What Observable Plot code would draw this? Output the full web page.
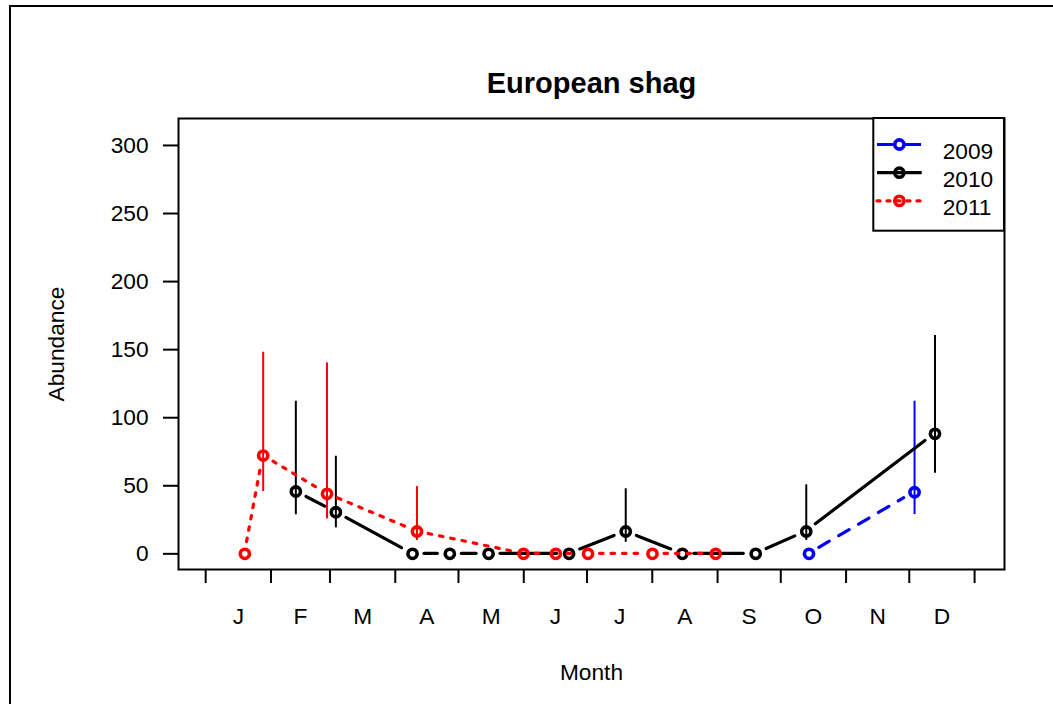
<!DOCTYPE html>
<html>
<head>
<meta charset="utf-8">
<script src="https://cdn.jsdelivr.net/npm/d3@7"></script>
<script src="https://cdn.jsdelivr.net/npm/@observablehq/plot@0.6"></script>
<style>
  html, body { margin: 0; padding: 0; background: #fff; }
  #wrap { position: relative; width: 1053px; height: 704px; overflow: hidden; }
  #border { position: absolute; left: 9px; top: 5px; width: 2000px; height: 2000px;
            border-left: 2px solid #000; border-top: 2px solid #000; pointer-events: none; }
  svg { display: block; }
</style>
</head>
<body>
<div id="wrap"><div id="border"></div><div id="chart"></div></div>
<script>
// ---- data ----
const monthLabels = ["J","F","M","A","M","J","J","A","S","O","N","D"];
const monthStarts = [1,32,60,91,121,152,182,213,244,274,305,335,366];
const yTicks = [0,50,100,150,200,250,300];
const years = ["2009","2010","2011"];
const colors = ["#0000ff","#000000","#ff0000"];

const day2009 = [287.4, 337.5];
const val2009 = [0, 45.3];
const lo2009  = [0, 28.9];
const hi2009  = [0, 112.1];

const day2010 = [43.8, 62.8, 99.2, 116.9, 135.3, 173.5, 200.4, 227.3, 262.1, 286.1, 347.2];
const val2010 = [45.8, 30.6, 0, 0, 0, 0, 16.4, 0, 0, 16.4, 88.2];
const lo2010  = [28.7, 19.1, 0, 0, 0, 0, 8.5, 0, 0, 9.8, 59.2];
const hi2010  = [112.1, 71.7, 0, 0, 0, 0, 47.8, 0, 0, 50.7, 160.4];

const day2011 = [19.6, 28.3, 58.6, 101.3, 151.9, 167.2, 182.5, 213.1, 243.1];
const val2011 = [0, 72.2, 44.1, 16.4, 0, 0, 0, 0, 0];
const lo2011  = [0, 45.8, 25.7, 9.8, 0, 0, 0, 0, 0];
const hi2011  = [0, 148.1, 140.3, 49.4, 0, 0, 0, 0, 0];

// ---- build rows ----
const mk = (days, vals, los, his) => days.map((d, i) => ({day: d, val: vals[i], lo: los[i], hi: his[i]}));
const series = [
  {year: years[0], color: colors[0], dash: "12,11", rows: mk(day2009, val2009, lo2009, hi2009), legendDash: "16,12", cap: "butt"},
  {year: years[1], color: colors[1], dash: null,    rows: mk(day2010, val2010, lo2010, hi2010), legendDash: null, cap: "butt"},
  {year: years[2], color: colors[2], dash: "3.5,8", rows: mk(day2011, val2011, lo2011, hi2011), legendDash: "3,7", cap: "round"}
];

const monthMids = monthLabels.map((m, i) => (monthStarts[i] + monthStarts[i + 1]) / 2);
const labelByMid = new Map(monthMids.map((m, i) => [m, monthLabels[i]]));

const GAP = 12;
const LW = 3.2;
const FS = 22.7;

function gapLine(rows, color, dash) {
  return (index, scales) => {
    const g = d3.create("svg:g")
      .attr("fill", "none").attr("stroke", color)
      .attr("stroke-width", LW).attr("stroke-linecap", "round");
    if (dash) g.attr("stroke-dasharray", dash);
    for (let i = 1; i < rows.length; i++) {
      const x1 = scales.x(rows[i-1].day), y1 = scales.y(rows[i-1].val);
      const x2 = scales.x(rows[i].day),   y2 = scales.y(rows[i].val);
      const dx = x2 - x1, dy = y2 - y1, L = Math.hypot(dx, dy);
      if (L <= 2 * GAP) continue;
      const ux = dx / L, uy = dy / L;
      g.append("line")
        .attr("x1", x1 + ux * GAP).attr("y1", y1 + uy * GAP)
        .attr("x2", x2 - ux * GAP).attr("y2", y2 - uy * GAP);
    }
    return g.node();
  };
}

function legend(index, scales, values, dims) {
  const right = dims.width - dims.marginRight;
  const top = dims.marginTop;
  const w = 130.7, h = 112.7;
  const g = d3.create("svg:g");
  g.append("rect").attr("x", right - w).attr("y", top).attr("width", w).attr("height", h)
    .attr("fill", "#fff").attr("stroke", "#000").attr("stroke-width", 2);
  series.forEach((s, i) => {
    const ly = top + 26.5 + i * 28.2;
    const x0 = right - w + 3.7, x1 = x0 + 44.7, xc = (x0 + x1) / 2;
    const ln = g.append("line").attr("x1", x0).attr("x2", x1).attr("y1", ly).attr("y2", ly)
      .attr("stroke", s.color).attr("stroke-width", LW).attr("stroke-linecap", s.cap);
    if (s.legendDash) ln.attr("stroke-dasharray", s.legendDash);
    g.append("circle").attr("cx", xc).attr("cy", ly).attr("r", 4.6)
      .attr("fill", "none").attr("stroke", s.color).attr("stroke-width", 3.6);
    g.append("text").attr("x", right - w + 69.4).attr("y", ly + 14)
      .attr("text-anchor", "start")
      .attr("fill", "#000").attr("font-size", FS).text(s.year);
  });
  return g.node();
}

const marks = [];
for (const s of series) {
  marks.push(Plot.ruleX(s.rows.filter(d => d.hi > d.lo), {x: "day", y1: "lo", y2: "hi", stroke: s.color, strokeWidth: 2}));
  marks.push(gapLine(s.rows, s.color, s.dash));
  marks.push(Plot.dot(s.rows, {x: "day", y: "val", r: 4.6, stroke: s.color, strokeWidth: 3.6, fill: "none"}));
}

const chart = Plot.plot({
  width: 1053,
  height: 704,
  marginLeft: 178,
  marginRight: 49,
  marginTop: 118,
  marginBottom: 135,
  style: {fontSize: FS + "px", fontFamily: "'Liberation Sans', Arial, Helvetica, sans-serif", color: "#000", background: "transparent"},
  x: {domain: [-11.9, 380.2], label: null},
  y: {domain: [-11.5, 319.8], label: null},
  marks: [
    Plot.axisY({ticks: yTicks, tickSize: 15, tickPadding: 15, strokeWidth: 2, label: null, fontSize: FS, tickFormat: d => String(d)}),
    Plot.axisX({ticks: monthStarts, tickSize: 14, strokeWidth: 2, label: null, tickFormat: () => ""}),
    Plot.axisX({ticks: monthMids, tickSize: 0, tickPadding: 38, label: null, fontSize: FS, tickFormat: d => labelByMid.get(d)}),
    ...marks,
    Plot.frame({stroke: "#000", strokeWidth: 2}),
    legend,
    Plot.text(["European shag"], {frameAnchor: "top", lineAnchor: "middle", textAnchor: "middle", dy: -34.8, fontSize: 29, fontWeight: "bold"}),
    Plot.text(["Month"], {frameAnchor: "bottom", lineAnchor: "middle", textAnchor: "middle", dy: 103.7, fontSize: FS}),
    Plot.text(["Abundance"], {frameAnchor: "left", lineAnchor: "middle", textAnchor: "middle", dx: -121.5, rotate: -90, fontSize: FS})
  ]
});
document.getElementById("chart").appendChild(chart);
</script>
</body>
</html>
